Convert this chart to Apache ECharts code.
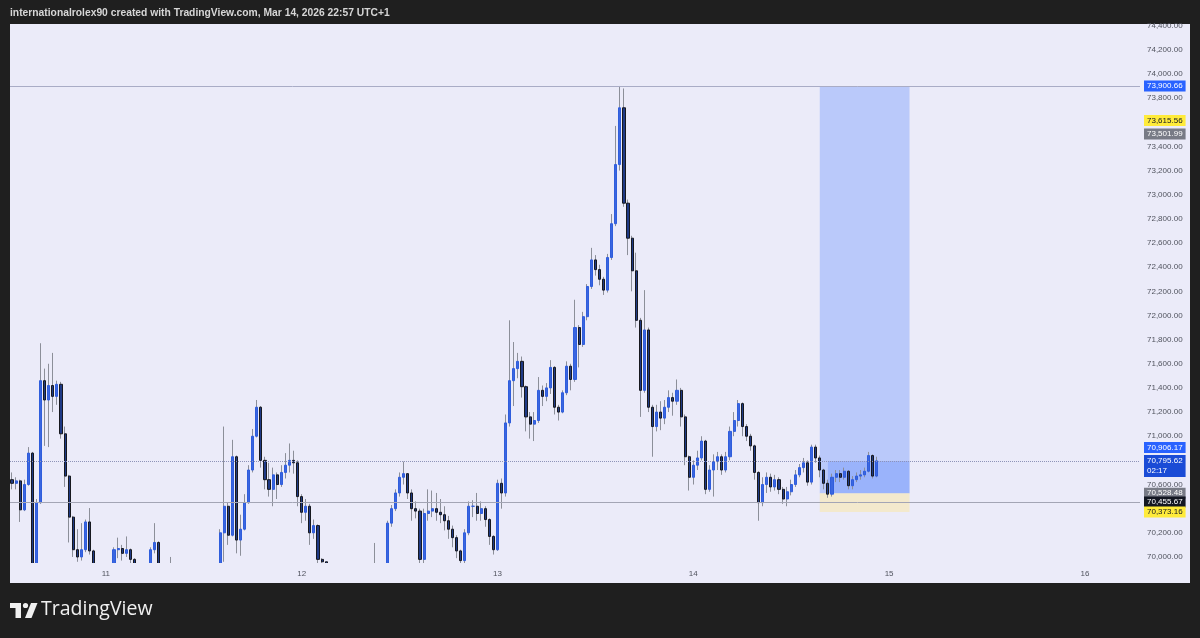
<!DOCTYPE html>
<html>
<head>
<meta charset="utf-8">
<title>BTC 30m</title>
<script src="https://cdn.jsdelivr.net/npm/echarts@6.0.0/dist/echarts.min.js"></script>
<style>
  html, body { margin: 0; padding: 0; background: #1f1f1f; }
  #chart { width: 1200px; height: 638px; }
</style>
</head>
<body>
<div id="chart"></div>
<script>
// 30 minute candles, first slot Mar 10 12:30, open of the first candle below
const firstOpen = 70640;
const closes = [
  70610, 70630, 70390, 70600, 70860, 69900, 70450, 71460, 71300, 71420,
  71330, 71430, 71020, 70670, 70330, 70060, 70000, 70060, 70290, 70050,
  69900, 69880, 69900, 69920, 69930, 70060, 70070, 70030, 70060, 69980,
  69900, 69880, 69890, 69920, 70060, 70120, 69920, 69900, 69910, 69900,
  69880, 69860, 69840, 69850, 69830, 69820, 69840, 69860, 69850, 69870,
  69890, 70200, 70420, 70180, 70830, 70140, 70230, 70450, 70720, 71000,
  71240, 70800, 70640, 70560, 70680, 70600, 70700, 70760, 70800, 70780,
  70500, 70370, 70420, 70200, 70260, 69980, 69960, 69900, 69880, 69860,
  69870, 69850, 69840, 69860, 69880, 69870, 69890, 69880, 69900, 69910,
  69920, 69900, 70280, 70400, 70530, 70660, 70690, 70530, 70400, 70380,
  69980, 70360, 70380, 70400, 70370, 70350, 70300, 70230, 70160, 70050,
  69970, 70200, 70420, 70420, 70360, 70400, 70310, 70170, 70060, 70610,
  70530, 71110, 71460, 71560, 71620, 71410, 71160, 71100, 71130, 71380,
  71330, 71400, 71570, 71240, 71200, 71360, 71580, 71470, 71900, 71760,
  71990, 72240, 72460, 72380, 72300, 72210, 72480, 72760, 73250, 73720,
  72930, 72640, 72370, 71960, 71380, 71880, 71240, 71080, 71200, 71150,
  71240, 71320, 71290, 71380, 71160, 70830, 70660, 70760, 70820, 70960,
  70560, 70720, 70790, 70830, 70720, 70830, 71040, 71130, 71270, 71080,
  71000, 70920, 70700, 70450, 70600, 70660, 70580, 70640, 70560, 70480,
  70540, 70600, 70680, 70740, 70780, 70620, 70910, 70820, 70720, 70610,
  70520, 70660, 70690, 70660, 70710, 70590, 70640, 70670, 70680, 70710,
  70840, 70670, 70795.62
];
const highs = [
  70700, 70660, 70640, 70640, 70910, 70870, 70480, 71770, 71560, 71600,
  71690, 71460, 71450, 71080, 70680, 70340, 70230, 70280, 70310, 70405,
  70060, 69930, 69940, 69945, 69948, 70080, 70160, 70100, 70170, 70070,
  69990, 69930, 69940, 69945, 70080, 70280, 70130, 69940, 69940, 70000,
  69920, 69900, 69890, 69890, 69880, 69870, 69880, 69900, 69900, 69910,
  69930, 70230, 71080, 70450, 70970, 70840, 70350, 70520, 70760, 71060,
  71300, 71250, 70830, 70780, 70740, 70700, 70760, 70860, 70940, 70880,
  70800, 70520, 70480, 70440, 70310, 70270, 69990, 69945, 69920, 69910,
  69910, 69900, 69890, 69900, 69920, 69910, 69930, 69930, 69940, 70116,
  69945, 69940, 70300, 70430, 70560, 70700, 70790, 70660, 70560, 70460,
  70400, 70400, 70560, 70550, 70530, 70480, 70420, 70340, 70260, 70180,
  70060, 70230, 70460, 70470, 70530, 70460, 70420, 70320, 70180, 70640,
  70650, 71180, 71960, 71780, 71690, 71660, 71420, 71200, 71200, 71490,
  71420, 71440, 71630, 71580, 71260, 71380, 71620, 71600, 72130, 71920,
  72030, 72260, 72560, 72500, 72420, 72320, 72510, 72840, 73570, 73900.66,
  73880, 72960, 72660, 72520, 71980, 72210, 71900, 71260, 71260, 71290,
  71300, 71380, 71360, 71470, 71400, 71180, 70840, 70800, 70880, 71000,
  70970, 70760, 70850, 70870, 70850, 70870, 71080, 71200, 71300, 71280,
  71100, 71020, 70930, 70710, 70660, 70700, 70690, 70680, 70660, 70580,
  70580, 70640, 70720, 70770, 70820, 70800, 70930, 70930, 70840, 70730,
  70640, 70690, 70720, 70720, 70740, 70720, 70670, 70700, 70720, 70740,
  70870, 70850, 70830
];
const lows = [
  70560, 70560, 70290, 70380, 70590, 69850, 69880, 70440, 70920, 70910,
  71200, 71260, 70980, 70580, 70120, 70000, 69960, 69970, 70040, 70020,
  69850, 69800, 69820, 69840, 69850, 69900, 69990, 69970, 70000, 69950,
  69850, 69820, 69830, 69860, 69910, 70030, 69880, 69850, 69860, 69850,
  69830, 69800, 69780, 69800, 69780, 69760, 69790, 69810, 69800, 69820,
  69840, 69870, 69960, 70100, 70170, 70030, 70010, 70220, 70440, 70700,
  70990, 70740, 70560, 70500, 70420, 70480, 70580, 70650, 70700, 70690,
  70420, 70280, 70300, 70100, 70150, 69950, 69900, 69840, 69820, 69800,
  69810, 69790, 69780, 69800, 69830, 69820, 69840, 69830, 69850, 69860,
  69870, 69850, 69880, 70250, 70380, 70500, 70600, 70480, 70300, 70320,
  69950, 69940, 70300, 70330, 70300, 70280, 70220, 70150, 70080, 69990,
  69920, 69940, 70180, 70330, 70300, 70300, 70250, 70100, 70020, 70050,
  70400, 70500, 71080, 71250, 71480, 71320, 71040, 70980, 70960, 71110,
  71250, 71290, 71350, 71180, 71130, 71190, 71340, 71380, 71450, 71570,
  71740, 71960, 72220, 72330, 72250, 72170, 72190, 72460, 72740, 73200,
  72900, 72500, 72200, 71900, 71160, 71360, 71200, 70830, 71040, 71050,
  71100, 71200, 71170, 71260, 71080, 70760, 70550, 70600, 70720, 70800,
  70520, 70540, 70500, 70720, 70680, 70700, 70800, 71000, 71080, 71000,
  70960, 70880, 70640, 70300, 70420, 70530, 70540, 70550, 70520, 70440,
  70420, 70510, 70580, 70660, 70700, 70590, 70600, 70780, 70660, 70560,
  70490, 70500, 70620, 70620, 70640, 70560, 70560, 70620, 70640, 70660,
  70700, 70650, 70660
];

// long position tool and price badges
const targetPrice = 73900.66;
const entryPrice = 70528.48;
const stopPrice = 70373.16;
const lastPrice = 70795.62;
const positionStart = '03-14 15:30';
const positionFill = '03-14 16:30';
const positionEnd = '03-15 02:30';

// time slots of the axis (30 min), Mar 10 12:30 .. Mar 16 06:30
const slotCount = 277;
const t0 = Date.UTC(2026, 2, 10, 12, 30);
const pad = n => (n < 10 ? '0' : '') + n;
const cats = [];
for (let i = 0; i < slotCount; i++) {
  const d = new Date(t0 + i * 1800000);
  cats.push(pad(d.getUTCMonth() + 1) + '-' + pad(d.getUTCDate()) + ' ' + pad(d.getUTCHours()) + ':' + pad(d.getUTCMinutes()));
}

const wickData = [];
const bodyData = [];
let prev = firstOpen;
for (let i = 0; i < closes.length; i++) {
  const o = prev, c = closes[i];
  const h = Math.max(highs[i], o, c), l = Math.min(lows[i], o, c);
  wickData.push([o, c, l, h]);
  bodyData.push([o, c, Math.min(o, c), Math.max(o, c)]);
  prev = c;
}

const fmt = v => v.toLocaleString('en-US', { minimumFractionDigits: 2, maximumFractionDigits: 2 });

function badge(value, bg, fg, line, text, dy) {
  return {
    yAxis: value,
    lineStyle: line || { color: 'rgba(0,0,0,0)', width: 0 },
    label: {
      show: true,
      position: 'end',
      distance: 4,
      offset: [0, dy || 0],
      formatter: text || fmt(value),
      backgroundColor: bg,
      color: fg,
      fontSize: 8,
      lineHeight: dy ? 10 : 9,
      fontFamily: 'Liberation Sans',
      padding: [1, 3]
    }
  };
}

const myChart = echarts.init(document.getElementById('chart'));
myChart.setOption({
  animation: false,
  backgroundColor: '#1f1f1f',
  graphic: [
    { type: 'rect', z: -10, shape: { x: 10, y: 24, width: 1180, height: 559 }, style: { fill: '#ebebf9' } },
    // candles that dip under the visible price range are hidden by the pane edge
    { type: 'rect', z: 5, shape: { x: 10, y: 563, width: 1130, height: 20 }, style: { fill: '#ebebf9' } },
    {
      type: 'text', left: 10, top: 8,
      style: { text: 'internationalrolex90 created with TradingView.com, Mar 14, 2026 22:57 UTC+1', fill: '#d6d6d6', font: 'bold 10.3px "Liberation Sans"' }
    },
    { type: 'polygon', shape: { points: [[10, 603], [21, 603], [21, 618], [15.5, 618], [15.5, 608], [10, 608]] }, style: { fill: '#f0f0f0' } },
    { type: 'circle', shape: { cx: 25.5, cy: 605.5, r: 2.6 }, style: { fill: '#f0f0f0' } },
    { type: 'polygon', shape: { points: [[31, 603], [37.5, 603], [31.5, 618], [25, 618]] }, style: { fill: '#f0f0f0' } },
    {
      type: 'text', left: 41, top: 599,
      style: { text: 'TradingView', fill: '#f0f0f0', font: '19.5px "Open Sans"' }
    }
  ],
  grid: { left: 10, right: 60, top: 24, bottom: 75 },
  xAxis: {
    type: 'category',
    data: cats,
    z: 10,
    boundaryGap: true,
    axisLine: { show: false },
    axisTick: { show: false },
    splitLine: { show: false },
    axisLabel: {
      interval: (idx, val) => val.slice(6) === '00:00',
      formatter: val => String(parseInt(val.slice(3, 5), 10)),
      color: '#50535e',
      fontSize: 8,
      fontFamily: 'Liberation Sans',
      margin: 7
    }
  },
  yAxis: {
    type: 'value',
    position: 'right',
    min: 69950,
    max: 74414,
    interval: 50,
    axisLine: { show: false },
    axisTick: { show: false },
    splitLine: { show: false },
    axisLabel: {
      formatter: v => (v % 200 === 0 ? fmt(v) : ''),
      color: '#50535e',
      fontSize: 8,
      fontFamily: 'Liberation Sans',
      margin: 7
    }
  },
  series: [
    {
      name: 'wicks',
      type: 'candlestick',
      data: wickData,
      barWidth: 1,
      clip: true,
      silent: true,
      itemStyle: {
        color: '#8c8f99',
        color0: '#8c8f99',
        borderColor: '#8c8f99',
        borderColor0: '#8c8f99',
        borderWidth: 1
      },
      markArea: {
        silent: true,
        data: [
          [{ xAxis: positionStart, yAxis: entryPrice, itemStyle: { color: 'rgba(41, 98, 255, 0.25)' } }, { xAxis: positionEnd, yAxis: targetPrice }],
          [{ xAxis: positionFill, yAxis: entryPrice, itemStyle: { color: 'rgba(41, 98, 255, 0.22)' } }, { xAxis: positionEnd, yAxis: lastPrice }],
          [{ xAxis: positionStart, yAxis: stopPrice, itemStyle: { color: 'rgba(255, 230, 140, 0.4)' } }, { xAxis: positionEnd, yAxis: entryPrice }]
        ]
      }
    },
    {
      name: 'bodies',
      type: 'candlestick',
      data: bodyData,
      barWidth: 2.6,
      clip: true,
      itemStyle: {
        color: '#3a66e0',
        color0: '#1f3a86',
        borderColor: '#2f5ddc',
        borderColor0: '#17191f',
        borderWidth: 1
      },
      markLine: {
        silent: true,
        symbol: 'none',
        data: [
          badge(targetPrice, '#2962ff', '#ffffff', { color: '#a9acc6', width: 1, type: 'solid' }),
          badge(73615.56, '#ffeb3b', '#131722'),
          badge(73501.99, '#787b86', '#ffffff'),
          badge(70906.17, '#2962ff', '#ffffff'),
          badge(lastPrice, '#1a4bd6', '#ffffff', { color: '#8e93b8', width: 1, type: 'dotted' }, fmt(lastPrice) + '\n02:17', 5),
          badge(entryPrice, '#787b86', '#ffffff'),
          badge(70455.67, '#131722', '#ffffff', { color: '#a3a5b5', width: 1, type: 'solid' }),
          badge(stopPrice, '#ffeb3b', '#131722')
        ]
      }
    }
  ]
});
window.addEventListener('resize', () => {
  myChart.resize();
});
</script>
</body>
</html>
